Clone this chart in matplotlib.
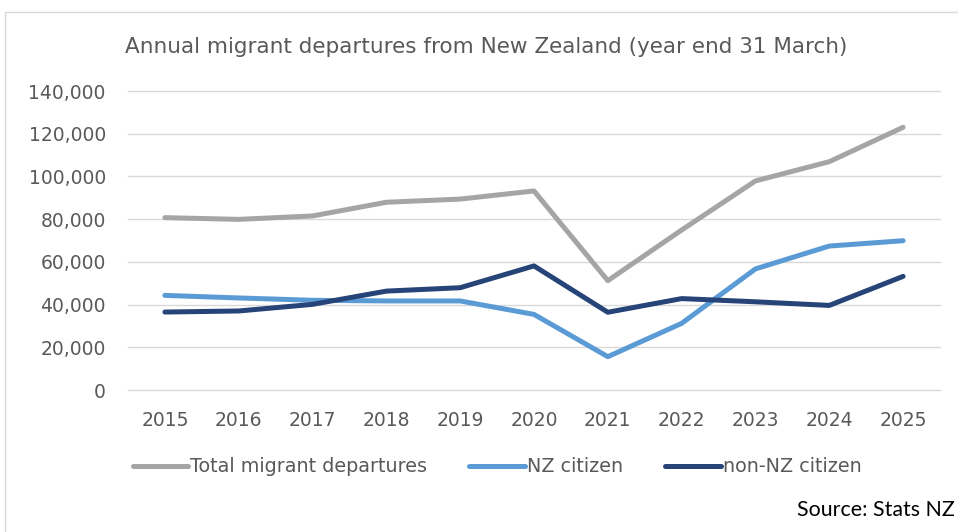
import matplotlib.pyplot as plt
from matplotlib.patches import Rectangle
from matplotlib.ticker import FuncFormatter

years = ["2015", "2016", "2017", "2018", "2019", "2020", "2021", "2022", "2023", "2024", "2025"]
total = [80700, 79900, 81500, 87900, 89400, 93200, 51200, 74900, 97900, 106900, 123000]
nz_citizen = [44300, 43100, 42000, 41700, 41700, 35400, 15600, 31200, 56700, 67400, 69900]
non_nz_citizen = [36500, 37000, 40100, 46300, 47900, 58100, 36400, 42800, 41300, 39600, 53200]

plt.rcParams['font.family'] = ['DejaVu Sans']
txt = '#595959'

fig = plt.figure(figsize=(9.58, 5.32), dpi=100)
fig.patches.append(Rectangle((5 / 958, -0.1), 1.1, 1 - 12 / 532 + 0.1, transform=fig.transFigure,
                             fill=False, edgecolor='#D9D9D9', linewidth=1))

ax = fig.add_axes([128 / 958, 142 / 532, 812 / 958, 299 / 532])
x = range(len(years))
ax.plot(x, total, color='#A5A5A5', lw=3.6, solid_capstyle='round', label='Total migrant departures')
ax.plot(x, nz_citizen, color='#5B9BD5', lw=3.6, solid_capstyle='round', label='NZ citizen')
ax.plot(x, non_nz_citizen, color='#264478', lw=3.6, solid_capstyle='round', label='non-NZ citizen')

ax.set_xlim(-0.5, len(years) - 0.5)
ax.set_ylim(0, 140000)
ax.set_yticks(range(0, 140001, 20000))
ax.yaxis.set_major_formatter(FuncFormatter(lambda v, p: f"{int(v):,}"))
ax.set_xticks(list(x))
ax.set_xticklabels(years)
ax.tick_params(length=0, labelsize=13.5, colors=txt)
ax.tick_params(axis='x', pad=15)
ax.tick_params(axis='y', pad=16)
ax.grid(axis='y', color='#D9D9D9', lw=1)
for gl in ax.get_ygridlines():
    gl.set_clip_on(False)
ax.set_axisbelow(True)
for s in ax.spines.values():
    s.set_visible(False)

fig.text(125 / 958, 1 - 47 / 532, "Annual migrant departures from New Zealand (year end 31 March)",
         fontsize=15.5, color=txt, va='center', ha='left')

fig.legend(loc='center', bbox_to_anchor=(497 / 958, 1 - 467 / 532), ncol=3, frameon=False,
           fontsize=13.8, labelcolor=txt, handlelength=2.9, handletextpad=0.1, columnspacing=2.2)

fig.text(955 / 958, 1 - 510 / 532, "Source: Stats NZ", fontsize=15.4, family=['Lato'],
         color='black', ha='right', va='center')

fig.savefig("out.png", dpi=100)
